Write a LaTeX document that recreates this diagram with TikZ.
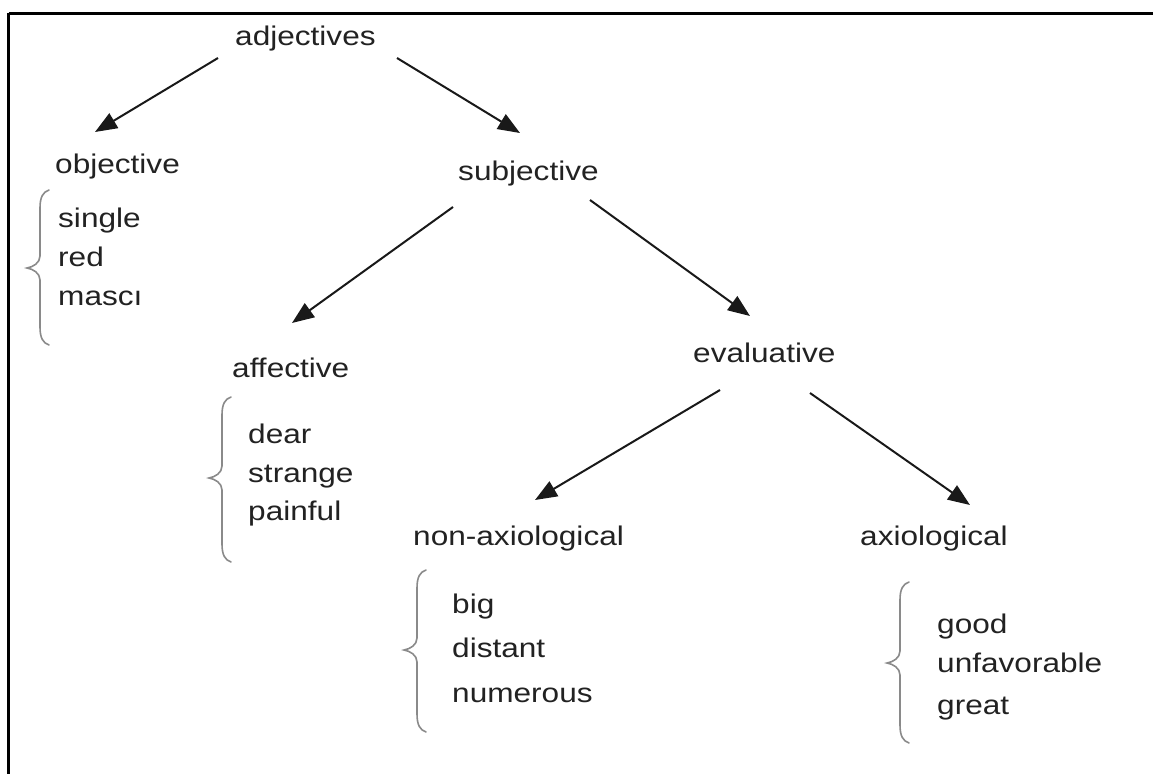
\documentclass[tikz,border=0pt]{standalone}
\usepackage{fontspec}
\setmainfont{Liberation Sans}
\usetikzlibrary{arrows.meta,calc}
\definecolor{txt}{HTML}{222222}
\definecolor{brc}{HTML}{8A8A8A}
\newcommand{\wt}[1]{\scalebox{1.17}[1]{#1}}
\newcommand{\mybrace}[4]{%
  \draw[bracestyle] ({#1+9},{#2}) .. controls ({#1+3},{#2+2}) and ({#1},{#2+7}) .. ({#1},{#2+18})
    -- ({#1},{#3-12}) .. controls ({#1},{#3-5}) and ({#1-7},{#3-1}) .. ({#1-13},{#3})
    .. controls ({#1-7},{#3+1}) and ({#1},{#3+5}) .. ({#1},{#3+12})
    -- ({#1},{#4-18}) .. controls ({#1},{#4-7}) and ({#1+3},{#4-2}) .. ({#1+9},{#4});}
\begin{document}
\begin{tikzpicture}[x=1pt,y=-1pt,
  lbl/.style={inner sep=0pt,anchor=base west,text=txt,font=\fontsize{27}{27}\selectfont},
  arr/.style={line width=2pt,draw=black!90,-{Triangle[length=22pt,width=17pt]}},
  bracestyle/.style={draw=brc,line width=1.6pt,line cap=round}]
\useasboundingbox (0,0) rectangle (1153,774);
\fill[white] (0,0) rectangle (1153,774);
% frame (top and left only)
\draw[line width=3pt,black] (8.5,1153-1153+13) -- (1153,13);
\draw[line width=3pt,black] (8.5,13) -- (8.5,774);
% headings
\node[lbl] (adj) at (235,45) {\wt{adjectives}};
\node[lbl] (obj) at (55,173) {\wt{objective}};
\node[lbl] (sub) at (458,180) {\wt{subjective}};
\node[lbl] (aff) at (232,377) {\wt{affective}};
\node[lbl] (eva) at (693,362) {\wt{evaluative}};
\node[lbl] (non) at (413,545) {\wt{non-axiological}};
\node[lbl] (axi) at (860,545) {\wt{axiological}};
% lists
\node[lbl] (o1) at (58,227) {\wt{single}};
\node[lbl] (o2) at (58,266) {\wt{red}};
\node[lbl] (o3) at (58,305) {\wt{masc\i}};
\node[lbl] (f1) at (248,443) {\wt{dear}};
\node[lbl] (f2) at (248,482) {\wt{strange}};
\node[lbl] (f3) at (248,520) {\wt{painful}};
\node[lbl] (n1) at (452,613) {\wt{big}};
\node[lbl] (n2) at (452,657) {\wt{distant}};
\node[lbl] (n3) at (452,702) {\wt{numerous}};
\node[lbl] (x1) at (937,633) {\wt{good}};
\node[lbl] (x2) at (937,672) {\wt{unfavorable}};
\node[lbl] (x3) at (937,714) {\wt{great}};
% braces
\mybrace{40}{190}{268}{345}
\mybrace{222}{397}{478}{562}
\mybrace{417}{570}{650}{732}
\mybrace{900}{582}{663}{743}
% arrows
\draw[arr] ($(adj.base west)+(-17,13)$) -- ($(obj.base west)+(40,-41)$);
\draw[arr] ($(adj.base west)+(162,13)$) -- ($(sub.base west)+(62,-47)$);
\draw[arr] ($(sub.base west)+(-5,27)$) -- ($(aff.base west)+(60,-54)$);
\draw[arr] ($(sub.base west)+(132,20)$) -- ($(eva.base west)+(57,-46)$);
\draw[arr] ($(eva.base west)+(27,28)$) -- ($(non.base west)+(122,-45)$);
\draw[arr] ($(eva.base west)+(117,31)$) -- ($(axi.base west)+(110,-40)$);
\end{tikzpicture}
\end{document}
